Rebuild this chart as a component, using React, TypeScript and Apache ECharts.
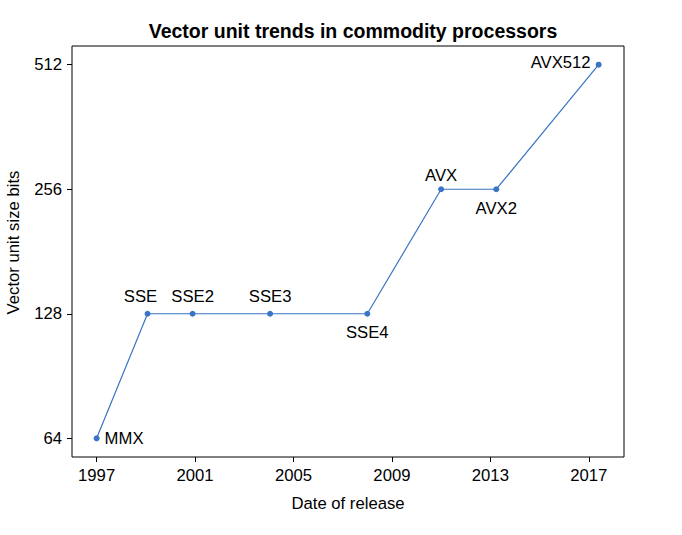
import React, { useEffect, useRef } from "react";
import * as echarts from "echarts";

const names = ["MMX", "SSE", "SSE2", "SSE3", "SSE4", "AVX", "AVX2", "AVX512"];
const years = [1997.0, 1999.07, 2000.9, 2004.05, 2008.0, 2011.0, 2013.24, 2017.4];
const bits = [64, 128, 128, 128, 128, 256, 256, 512];
const xTicks = [1997, 2001, 2005, 2009, 2013, 2017];
const yTicks = [64, 128, 256, 512];

const labelPos: any[] = [
  { position: "right", distance: 5 },
  { position: "top", distance: 6, offset: [-7, 0] },
  { position: "top", distance: 6 },
  { position: "top", distance: 6 },
  { position: "bottom", distance: 7 },
  { position: "top", distance: 2 },
  { position: "bottom", distance: 8 },
  { position: "left", distance: 5, offset: [0, -2] },
];

export default function App() {
  const ref = useRef<HTMLDivElement>(null);
  useEffect(() => {
    if (!ref.current) return;
    const chart = echarts.init(ref.current, null, { renderer: "svg" });
    const font = "Liberation Sans, Arial, sans-serif";
    const fs = 16.7;
    const data = years.map((y, i) => ({
      value: [y, Math.log2(bits[i])],
      label: {
        show: true,
        formatter: names[i],
        color: "#000",
        fontSize: fs,
        fontFamily: font,
        ...labelPos[i],
      },
    }));
    chart.setOption({
      animation: false,
      backgroundColor: "#fff",
      title: {
        text: "Vector unit trends in commodity processors",
        left: 348,
        textAlign: "center",
        top: 16,
        textStyle: { fontSize: 19.5, fontWeight: "bold", color: "#000", fontFamily: font },
      },
      grid: {
        left: 72,
        right: 58,
        top: 46,
        bottom: 78,
        outerBoundsMode: "none",
        containLabel: false,
        show: true,
        borderColor: "#000",
        borderWidth: 1,
        backgroundColor: "transparent",
      },
      xAxis: {
        type: "value",
        min: 1996,
        max: 2018.43,
        name: "Date of release",
        nameLocation: "middle",
        nameGap: 38,
        nameTextStyle: { fontSize: fs, color: "#000", fontFamily: font },
        axisLine: { show: false },
        axisTick: { show: true, length: 5, lineStyle: { color: "#000" }, customValues: xTicks },
        axisLabel: {
          fontSize: fs,
          color: "#000",
          fontFamily: font,
          margin: 10,
          customValues: xTicks,
          formatter: (v: number) => String(Math.round(v)),
        },
        splitLine: { show: false },
      },
      yAxis: {
        type: "value",
        min: 5.85,
        max: 9.15,
        name: "Vector unit size bits",
        nameLocation: "middle",
        nameGap: 50,
        nameTextStyle: {
          fontSize: fs,
          color: "#000",
          fontFamily: font,
          padding: [0, 0, 0, 18],
        },
        axisLine: { show: false },
        axisTick: {
          show: true,
          length: 5,
          lineStyle: { color: "#000" },
          customValues: yTicks.map((t) => Math.log2(t)),
        },
        axisLabel: {
          fontSize: fs,
          color: "#000",
          fontFamily: font,
          margin: 10,
          customValues: yTicks.map((t) => Math.log2(t)),
          formatter: (v: number) => String(Math.round(Math.pow(2, v))),
        },
        splitLine: { show: false },
      },
      series: [
        {
          type: "line",
          data,
          symbol: "circle",
          symbolSize: 6,
          itemStyle: { color: "#3a75c4" },
          lineStyle: { color: "#3a75c4", width: 1.2 },
        },
      ],
    });
    return () => chart.dispose();
  }, []);
  return (
    <div
      ref={ref}
      style={{ position: "fixed", left: 0, top: 0, width: 682, height: 535 }}
    />
  );
}
